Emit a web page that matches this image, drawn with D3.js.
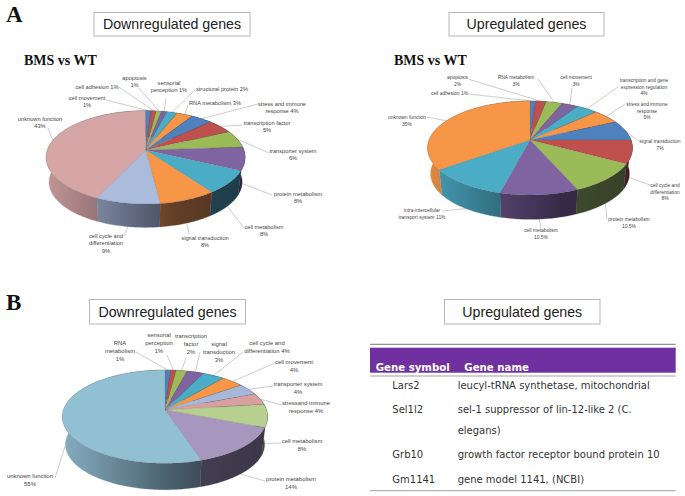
<!DOCTYPE html>
<html>
<head>
<meta charset="utf-8">
<script src="https://cdn.jsdelivr.net/npm/d3@7"></script>
<style>
html, body { margin: 0; padding: 0; background: #fff; }
svg { display: block; }
</style>
</head>
<body>
<svg id="chart" width="685" height="496"></svg>
<script>
// panel A, downregulated
var a1_labels = [["cell movement", "1%"], ["cell adhesion 1%"], ["apoptosis", "1%"], ["sensorial", "perception 1%"],
    ["structural protein 2%"], ["RNA metabolism 3%"], ["stress and immune", "response 4%"], ["transcription factor", "5%"],
    ["transporter system", "6%"], ["protein metabolism", "8%"], ["cell metabolism", "8%"], ["signal transduction", "8%"],
    ["cell cycle and", "differentiation", "9%"], ["unknown function", "43%"]];
var a1_values = [1, 1, 1, 1, 2, 3, 4, 5, 6, 8, 8, 8, 9, 43];
var a1_colors = ["#4f81bd", "#c0504d", "#9bbb59", "#8064a2", "#4bacc6", "#f79646", "#4f81bd", "#c0504d", "#9bbb59", "#8064a2", "#4bacc6", "#f79646", "#aabbdc", "#d6a5a5"];

// panel A, upregulated
var a2_labels = [["cell adhesion 1%"], ["apoptosis", "2%"], ["RNA metabolism", "3%"], ["cell movement", "3%"],
    ["transcription and gene", "expression regulation", "4%"], ["stress and immune", "response", "5%"], ["signal transduction", "7%"],
    ["cell cycle and", "differentiation", "8%"], ["protein metabolism", "10.5%"], ["cell metabolism", "10.5%"],
    ["intra-intercellular", "transport system 11%"], ["unknown function", "35%"]];
var a2_values = [1, 2, 3, 3, 4, 5, 7, 8, 10.5, 10.5, 11, 35];
var a2_colors = ["#4f81bd", "#c0504d", "#9bbb59", "#8064a2", "#4bacc6", "#f79646", "#4f81bd", "#c0504d", "#9bbb59", "#8064a2", "#4bacc6", "#f79646"];

// panel B, downregulated
var b1_labels = [["RNA", "metabolism", "1%"], ["sensorial", "perception", "1%"], ["transcription", "factor", "2%"], ["signal", "transduction", "3%"],
    ["cell cycle and", "differentiation 4%"], ["cell movement", "4%"], ["transporter system", "4%"], ["stressand immune", "response 4%"],
    ["cell metabolism", "8%"], ["protein metabolism", "14%"], ["unknown function", "55%"]];
var b1_values = [1, 1, 2, 3, 4, 4, 4, 4, 8, 14, 55];
var b1_colors = ["#4f81bd", "#c0504d", "#9bbb59", "#8064a2", "#4bacc6", "#f79646", "#a5b8da", "#d9a0a0", "#b7cf8f", "#a797bf", "#92c0d3"];

// panel B, table
var table_head = ["Gene symbol", "Gene name"];
var table_symbols = ["Lars2", "Sel1l2", "Grb10", "Gm1141"];
var table_names = [["leucyl-tRNA synthetase, mitochondrial"], ["sel-1 suppressor of lin-12-like 2 (C.", "elegans)"], ["growth factor receptor bound protein 10"], ["gene model 1141, (NCBI)"]];

// label layout: [center x, first baseline y, leader end x, leader end y]
var a1_pos = [[87,100,106,100],[97,89,119,87],[134.5,80,139,88],[169,85,166,98],[222,91,195,90],[215,105,188,105],[282,106,258,104],[267,125,242,125],[293,153,269,153],[298,196,272,195],[264,229,244,228],[205,240,189,234],[106,238,124,236],[40,121,48,128]];
var a2_pos = [[449.5,95,468,94],[457.5,79,468,79],[516,79,538,79],[576,79,572,88],[644,82,618,87],[647,106,625,104],[660,143,640,142],[665,187,650,185],[629,221,607,219],[541,232,541,228],[422,212,442,211],[407,119,427,117]];
var b1_pos = [[120,345,136,352],[159,337,167,355],[191,338,186,358],[219,346,200,352],[267,345,243,352],[294,364,275,363],[298,386,273,386],[306,405,282,405],[302,443,281,443],[291,481,265,481],[30,478,55,478]];

var svg = d3.select("#chart");
var defs = svg.append("defs");
var grad_id = 0;

// perspective pie: circle is projected so the front looks bigger than the back
function draw_pie(o){
    var g = svg.append("g");
    var arcs = d3.pie().sort(null).value(function(d){ return d; })(o.values);
    var color = d3.scaleOrdinal(d3.range(o.values.length), o.colors);
    var shade = d3.scaleLinear([o.cx - o.R, o.cx + 0.3 * o.R, o.cx + o.R], [0.9, 0.36, 0.3]).clamp(true);

    function top(t){
        var s = -Math.cos(t), w = 1 - o.k * s;
        return [o.cx + o.R * Math.sin(t) / w, o.cy + o.B * s / w];
    }
    function bottom(t){
        var p = top(t);
        return [o.cx + (p[0] - o.cx) * o.scale, o.cy + o.depth + (p[1] - o.cy) * o.scale];
    }
    function samples(a, b){
        var n = Math.max(2, Math.ceil((b - a) / 0.02));
        return d3.range(n + 1).map(function(i){ return a + (b - a) * i / n; });
    }
    var line = d3.line();

    // leader lines go under the pie
    g.selectAll("line.leader").data(arcs).enter().append("line")
        .attr("class", "leader")
        .attr("x1", function(d, i){ return o.pos[i][2]; })
        .attr("y1", function(d, i){ return o.pos[i][3]; })
        .attr("x2", function(d){
            var m = (d.startAngle + d.endAngle) / 2;
            return (Math.cos(m) < 0 ? bottom(m) : top(m))[0];
        })
        .attr("y2", function(d){
            var m = (d.startAngle + d.endAngle) / 2;
            return (Math.cos(m) < 0 ? bottom(m) : top(m))[1];
        })
        .attr("stroke", "#a9a9a9")
        .attr("stroke-width", 0.6);

    // side walls
    arcs.forEach(function(d, i){
        var ts = samples(d.startAngle, d.endAngle);
        var pts = ts.map(top).concat(ts.slice().reverse().map(bottom));
        var xs = pts.map(function(p){ return p[0]; });
        var x0 = d3.min(xs), x1 = d3.max(xs);
        var id = "wall" + (grad_id++);
        var lg = defs.append("linearGradient").attr("id", id)
            .attr("gradientUnits", "userSpaceOnUse")
            .attr("x1", x0).attr("x2", x1).attr("y1", 0).attr("y2", 0);
        var mix = d3.interpolateRgb("#0c0c14", color(i));
        d3.range(5).forEach(function(j){
            var x = x0 + (x1 - x0) * j / 4;
            lg.append("stop").attr("offset", j / 4).attr("stop-color", mix(shade(x)));
        });
        g.append("path")
            .attr("d", line(pts) + "Z")
            .attr("fill", "url(#" + id + ")")
            .attr("stroke", "url(#" + id + ")")
            .attr("stroke-width", 0.3);
    });

    // top faces
    g.selectAll("path.face").data(arcs).enter().append("path")
        .attr("class", "face")
        .attr("d", function(d){
            return line([[o.cx, o.cy]].concat(samples(d.startAngle, d.endAngle).map(top))) + "Z";
        })
        .attr("fill", function(d, i){ return color(i); })
        .attr("stroke", "#5a5a5a")
        .attr("stroke-opacity", 0.55)
        .attr("stroke-width", 0.3);

    // labels
    var lab = g.selectAll("text.label").data(o.labels).enter().append("text")
        .attr("class", "label")
        .attr("text-anchor", "middle")
        .attr("font-family", "'Liberation Sans', sans-serif")
        .attr("font-size", o.font + "px")
        .attr("fill", "#444");
    lab.each(function(d, i){
        d3.select(this).selectAll("tspan").data(d).enter().append("tspan")
            .attr("x", o.pos[i][0])
            .attr("y", function(t, j){ return o.pos[i][1] + j * o.lead; })
            .text(function(t){ return t; });
    });
}

function title_box(x, y, w, h, txt){
    svg.append("rect").attr("x", x).attr("y", y).attr("width", w).attr("height", h)
        .attr("fill", "#fff").attr("stroke", "#b0b0b0").attr("stroke-width", 0.9);
    svg.append("text").attr("x", x + w / 2).attr("y", y + h / 2 + 5)
        .attr("text-anchor", "middle")
        .attr("font-family", "'Liberation Sans', Arial, sans-serif")
        .attr("font-size", "14.2px").attr("fill", "#222")
        .text(txt);
}
function serif_text(x, y, size, txt){
    svg.append("text").attr("x", x).attr("y", y)
        .attr("font-family", "'Liberation Serif', serif")
        .attr("font-weight", "bold")
        .attr("font-size", size + "px").attr("fill", "#111")
        .text(txt);
}

serif_text(6, 22, 23, "A");
serif_text(6, 310, 23, "B");
serif_text(24, 65, 14, "BMS vs WT");
serif_text(394, 65, 14, "BMS vs WT");

title_box(94, 12.5, 156, 23.5, "Downregulated genes");
title_box(449, 12.5, 155, 23.5, "Upregulated genes");
title_box(89.5, 299.5, 156, 24.5, "Downregulated genes");
title_box(444.5, 299.5, 155.5, 24.5, "Upregulated genes");

draw_pie({values: a1_values, colors: a1_colors, labels: a1_labels, pos: a1_pos, cx: 145.6, cy: 150, R: 98.3, B: 45.5, k: 0.1575, depth: 25, scale: 0.97, font: 5.7, lead: 7.4});
draw_pie({values: a2_values, colors: a2_colors, labels: a2_labels, pos: a2_pos, cx: 530, cy: 140, R: 101, B: 45.6, k: 0.17, depth: 26, scale: 0.97, font: 4.9, lead: 6.6});
draw_pie({values: b1_values, colors: b1_colors, labels: b1_labels, pos: b1_pos, cx: 165, cy: 410, R: 101.6, B: 45.7, k: 0.1425, depth: 28, scale: 0.97, font: 5.9, lead: 8});

// table
var table_x = [370, 675.7];
function rule(y, c, w){
    svg.append("line").attr("x1", table_x[0]).attr("x2", table_x[1]).attr("y1", y).attr("y2", y)
        .attr("stroke", c).attr("stroke-width", w);
}
rule(344.3, "#555", 0.8);
svg.append("rect").attr("x", table_x[0]).attr("y", 347.7).attr("width", table_x[1] - table_x[0]).attr("height", 25).attr("fill", "#7030a0");
rule(376, "#888", 0.8);
rule(490.7, "#888", 0.8);

var head_x = [375.7, 464.3];
svg.selectAll("text.head").data(table_head).enter().append("text")
    .attr("class", "head")
    .attr("x", function(d, i){ return head_x[i]; })
    .attr("y", 371)
    .attr("font-family", "'DejaVu Sans', sans-serif").attr("font-weight", "bold")
    .attr("font-size", "10.2px").attr("fill", "#fff")
    .text(function(d){ return d; });

var row_y = [389, 413, 458, 483];
var row_wrap = 21;
function body_text(x, y, txt){
    svg.append("text").attr("x", x).attr("y", y)
        .attr("font-family", "'DejaVu Sans', sans-serif")
        .attr("font-size", "10px").attr("fill", "#333")
        .text(txt);
}
table_symbols.forEach(function(s, i){
    body_text(392.3, row_y[i], s);
    table_names[i].forEach(function(t, j){
        body_text(457.7, row_y[i] + j * row_wrap, t);
    });
});
</script>
</body>
</html>
